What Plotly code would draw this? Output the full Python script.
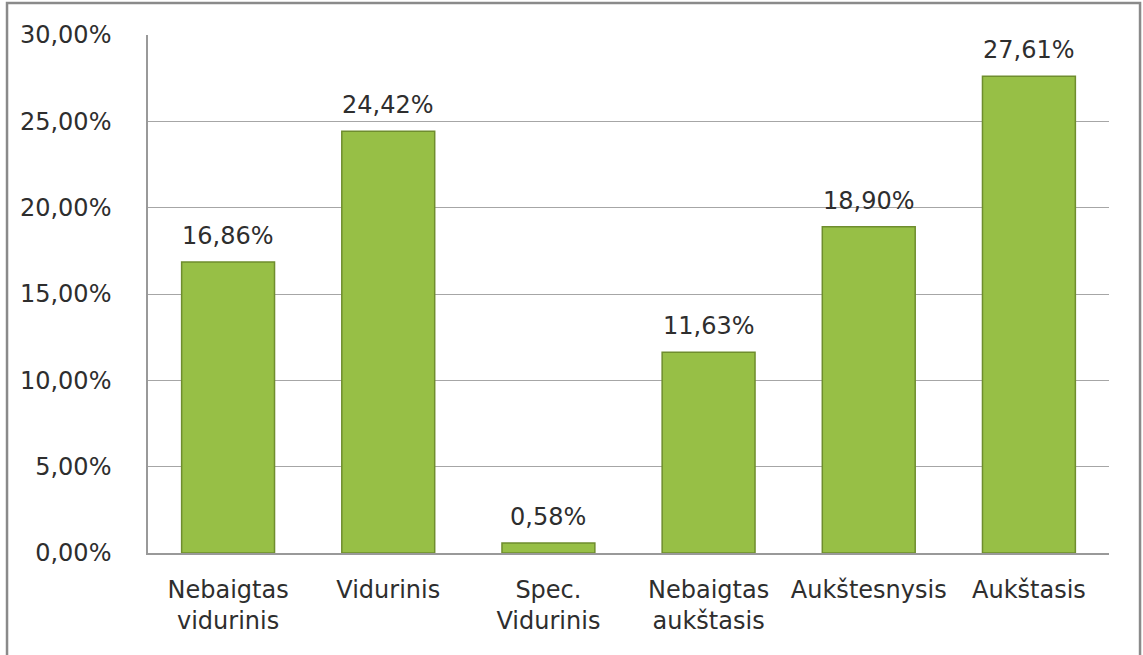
import plotly.graph_objects as go

categories = ["Nebaigtas<br>vidurinis", "Vidurinis", "Spec.<br>Vidurinis",
              "Nebaigtas<br>aukštasis", "Aukštesnysis", "Aukštasis"]
values = [0.1686, 0.2442, 0.0058, 0.1163, 0.1890, 0.2761]
y_ticks = [0, 0.05, 0.10, 0.15, 0.20, 0.25, 0.30]

FONT = "DejaVu Sans"
TXT = "#2e2e2e"

fig = go.Figure()
fig.add_trace(go.Bar(
    x=categories, y=values,
    marker=dict(color="#97bf46", line=dict(color="#6f8d2e", width=1.5)),
    hoverinfo="x+y",
))

for c, v in zip(categories, values):
    fig.add_annotation(x=c, y=v, text=f"{v*100:.2f}%".replace(".", ","),
                       showarrow=False, yanchor="bottom", yshift=10,
                       font=dict(family=FONT, size=24, color=TXT))

fig.update_layout(
    width=1143, height=655,
    margin=dict(l=148, r=34, t=35, b=102),
    paper_bgcolor="white", plot_bgcolor="white",
    separators=",.",
    bargap=0.42,
    showlegend=False,
    font=dict(family=FONT, size=24, color=TXT),
    xaxis=dict(showline=True, linecolor="#999999", linewidth=1.5,
               ticks="", tickfont=dict(family=FONT, size=24, color=TXT),
               ticklabelstandoff=14),
    yaxis=dict(range=[0, 0.30], tickvals=y_ticks, tickformat=".2%",
               showgrid=True, gridcolor="#a6a6a6", gridwidth=1,
               showline=True, linecolor="#999999", linewidth=1.5,
               ticks="", zeroline=False,
               tickfont=dict(family=FONT, size=24, color=TXT),
               ticklabelstandoff=30),
    shapes=[dict(type="rect", xref="paper", yref="paper",
                 x0=-0.1467, x1=1.0323, y0=-0.4, y1=1.0618,
                 line=dict(color="#8a8a8a", width=2.5), layer="below")],
)

fig.write_html("out.html", config={"displayModeBar": False},
               post_script="document.body.style.margin='0';document.body.style.overflow='hidden';")
